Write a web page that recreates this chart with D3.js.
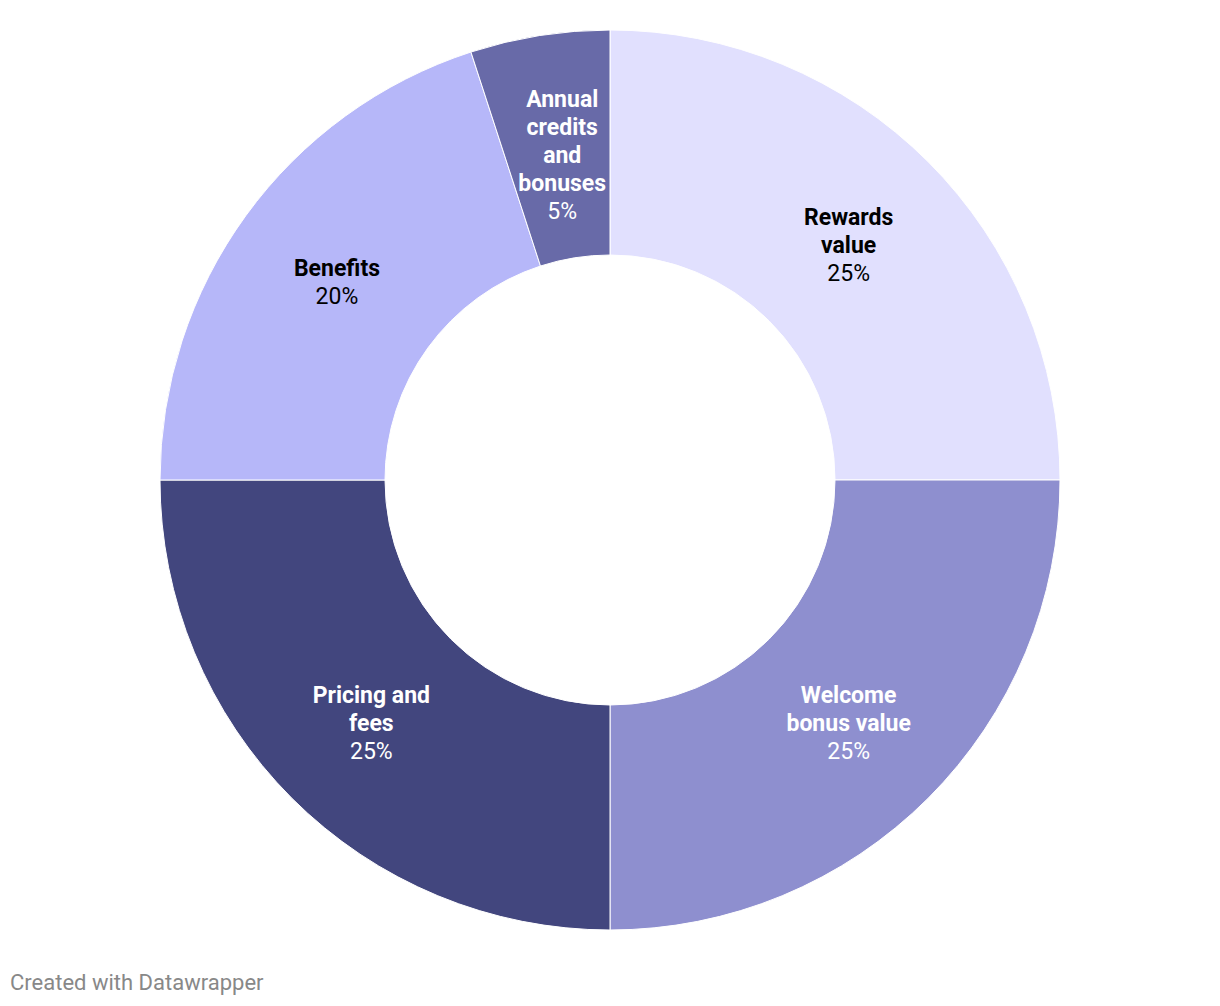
<!DOCTYPE html>
<html>
<head>
<meta charset="utf-8">
<script src="https://cdn.jsdelivr.net/npm/d3@7"></script>
<style>
  body { margin: 0; background: #fff; font-family: Roboto, "Noto Sans", sans-serif; }
  svg { display: block; }
</style>
</head>
<body>
<svg id="chart" width="1220" height="1006"></svg>
<script>
const categories = ["Rewards value", "Welcome bonus value", "Pricing and fees", "Benefits", "Annual credits and bonuses"];
const values = [25, 25, 25, 20, 5];
const labelLines = [["Rewards", "value"], ["Welcome", "bonus value"], ["Pricing and", "fees"], ["Benefits"], ["Annual", "credits", "and", "bonuses"]];
const colors = ["#e1e0fe", "#8e8fcf", "#42467e", "#b6b7f9", "#686aa8"];
const textColors = ["#000", "#fff", "#fff", "#000", "#fff"];

const svg = d3.select("#chart");
const cx = 610, cy = 480, outerR = 450, innerR = 225;
const g = svg.append("g").attr("transform", `translate(${cx},${cy})`);

const data = categories.map((c, i) => ({ name: c, value: values[i], i }));
const pie = d3.pie().value(d => d.value).sort(null);
const arc = d3.arc().innerRadius(innerR).outerRadius(outerR);
const arcs = pie(data);

g.selectAll("path").data(arcs).join("path")
  .attr("d", arc)
  .attr("fill", d => colors[d.data.i])
  .attr("stroke", "#fff")
  .attr("stroke-width", 1);

const lh = 28;
const labels = g.selectAll("g.lbl").data(arcs).join("g").attr("class", "lbl")
  .attr("transform", d => {
    const [x, y] = arc.centroid(d);
    const n = labelLines[d.data.i].length + 1;
    const dx = n > 4 ? 5 : 0;
    const dy = n > 4 ? 8 : (n > 2 ? 4 : 0);
    return `translate(${x + dx},${y + dy})`;
  });

labels.each(function(d) {
  const lines = labelLines[d.data.i];
  const n = lines.length + 1;
  const t = d3.select(this).append("text")
    .attr("text-anchor", "middle")
    .attr("fill", textColors[d.data.i])
    .style("font-size", "23px");
  lines.forEach((l, k) => {
    t.append("tspan").attr("x", 0).attr("y", (k - (n - 1) / 2) * lh).attr("dy", "0.35em")
      .style("font-weight", "bold").text(l);
  });
  t.append("tspan").attr("x", 0).attr("y", (n - 1 - (n - 1) / 2) * lh).attr("dy", "0.35em")
    .text(d.data.value + "%");
});

svg.append("text").attr("x", 10).attr("y", 990)
  .attr("fill", "#888").style("font-size", "22px")
  .text("Created with Datawrapper");
</script>
</body>
</html>
